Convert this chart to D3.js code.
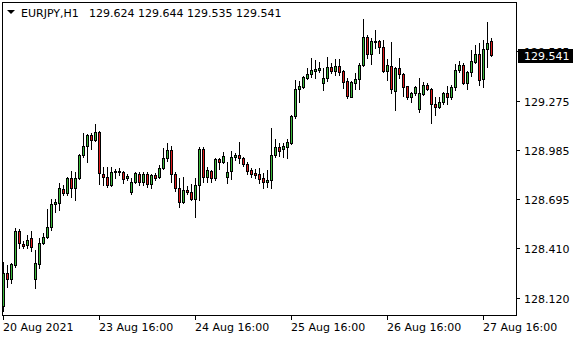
<!DOCTYPE html>
<html>
<head>
<meta charset="utf-8">
<script src="https://cdn.jsdelivr.net/npm/d3@7"></script>
<style>
  body { margin: 0; background: #fff; }
  svg { display: block; font-family: "DejaVu Sans", sans-serif; font-size: 11px; }
</style>
</head>
<body>
<svg width="580" height="340"></svg>
<script>
// EURJPY H1 candles
const symbol = "EURJPY,H1";
const lastQuote = ["129.624", "129.644", "129.535", "129.541"];

const opens = [
  128.070, 128.263, 128.229, 128.311, 128.510, 128.434, 128.428, 128.469, 128.229, 128.317,
  128.439, 128.475, 128.533, 128.668, 128.674, 128.756, 128.733, 128.821, 128.762, 128.821,
  128.955, 129.008, 129.072, 129.043, 129.090, 128.844, 128.827, 128.780, 128.856, 128.856,
  128.856, 128.821, 128.739, 128.797, 128.844, 128.797, 128.844, 128.786, 128.838, 128.827,
  128.880, 128.938, 128.985, 128.844, 128.762, 128.680, 128.750, 128.739, 128.698, 128.780,
  128.991, 128.827, 128.862, 128.821, 128.932, 128.914, 128.827, 128.862, 128.944, 128.955,
  128.938, 128.903, 128.868, 128.850, 128.844, 128.821, 128.797, 128.809, 128.955, 129.002,
  128.991, 129.002, 129.026, 129.184, 129.342, 129.354, 129.407, 129.430, 129.448, 129.454,
  129.378, 129.407, 129.471, 129.448, 129.477, 129.448, 129.389, 129.295, 129.378, 129.401,
  129.483, 129.647, 129.547, 129.618, 129.624, 129.589, 129.448, 129.477, 129.331, 129.465,
  129.430, 129.360, 129.295, 129.319, 129.225, 129.313, 129.366, 129.342, 129.254, 129.237,
  129.266, 129.319, 129.295, 129.354, 129.454, 129.483, 129.378, 129.442, 129.500, 129.547,
  129.401, 129.577, 129.624
];
const highs = [
  128.328, 128.311, 128.322, 128.528, 128.522, 128.451, 128.486, 128.510, 128.399, 128.469,
  128.498, 128.639, 128.698, 128.698, 128.791, 128.780, 128.827, 128.862, 128.856, 128.961,
  129.084, 129.078, 129.084, 129.137, 129.096, 128.885, 128.885, 128.885, 128.874, 128.880,
  128.862, 128.844, 128.821, 128.856, 128.856, 128.856, 128.856, 128.844, 128.850, 128.897,
  128.997, 129.026, 129.008, 128.856, 128.821, 128.827, 128.774, 128.786, 128.821, 129.002,
  129.002, 128.885, 128.868, 128.938, 128.938, 128.973, 128.914, 128.979, 128.967, 129.032,
  128.944, 128.914, 128.880, 128.874, 128.880, 128.850, 128.868, 129.114, 129.049, 129.026,
  129.026, 129.049, 129.190, 129.395, 129.389, 129.419, 129.465, 129.524, 129.512, 129.500,
  129.465, 129.530, 129.495, 129.518, 129.518, 129.454, 129.407, 129.389, 129.436, 129.495,
  129.753, 129.659, 129.641, 129.688, 129.630, 129.630, 129.518, 129.618, 129.471, 129.524,
  129.436, 129.360, 129.325, 129.360, 129.407, 129.383, 129.378, 129.348, 129.295, 129.295,
  129.325, 129.360, 129.366, 129.489, 129.506, 129.495, 129.448, 129.571, 129.600, 129.612,
  129.630, 129.735, 129.644
];
const lows = [
  128.041, 128.182, 128.205, 128.299, 128.410, 128.410, 128.410, 128.393, 128.176, 128.293,
  128.434, 128.469, 128.516, 128.621, 128.633, 128.721, 128.721, 128.710, 128.692, 128.815,
  128.944, 128.914, 128.990, 129.037, 128.786, 128.780, 128.768, 128.774, 128.821, 128.838,
  128.791, 128.809, 128.727, 128.791, 128.780, 128.780, 128.768, 128.762, 128.809, 128.821,
  128.874, 128.920, 128.797, 128.744, 128.651, 128.674, 128.727, 128.692, 128.592, 128.692,
  128.797, 128.797, 128.797, 128.809, 128.874, 128.909, 128.791, 128.815, 128.926, 128.909,
  128.891, 128.844, 128.827, 128.821, 128.791, 128.762, 128.768, 128.762, 128.944, 128.949,
  128.944, 128.938, 129.020, 129.172, 129.266, 129.348, 129.401, 129.413, 129.407, 129.442,
  129.336, 129.389, 129.436, 129.424, 129.424, 129.348, 129.289, 129.295, 129.342, 129.342,
  129.477, 129.524, 129.489, 129.583, 129.553, 129.442, 129.395, 129.319, 129.219, 129.407,
  129.301, 129.284, 129.266, 129.307, 129.207, 129.307, 129.336, 129.143, 129.190, 129.231,
  129.254, 129.254, 129.284, 129.336, 129.442, 129.372, 129.342, 129.419, 129.495, 129.366,
  129.354, 129.471, 129.535
];
const closes = [
  128.263, 128.229, 128.317, 128.510, 128.439, 128.422, 128.457, 128.416, 128.322, 128.439,
  128.475, 128.533, 128.668, 128.680, 128.762, 128.733, 128.821, 128.762, 128.821, 128.955,
  129.008, 129.072, 129.043, 129.090, 128.850, 128.827, 128.780, 128.856, 128.862, 128.862,
  128.815, 128.832, 128.797, 128.850, 128.797, 128.844, 128.786, 128.838, 128.821, 128.880,
  128.938, 128.985, 128.844, 128.762, 128.680, 128.750, 128.739, 128.698, 128.780, 128.991,
  128.827, 128.868, 128.821, 128.932, 128.914, 128.949, 128.856, 128.944, 128.955, 128.938,
  128.903, 128.862, 128.844, 128.838, 128.815, 128.797, 128.809, 128.955, 129.002, 128.979,
  129.008, 129.032, 129.184, 129.342, 129.360, 129.413, 129.430, 129.454, 129.460, 129.465,
  129.407, 129.471, 129.448, 129.477, 129.442, 129.383, 129.301, 129.383, 129.401, 129.483,
  129.647, 129.547, 129.624, 129.624, 129.589, 129.448, 129.483, 129.342, 129.465, 129.430,
  129.354, 129.295, 129.319, 129.354, 129.319, 129.366, 129.342, 129.254, 129.237, 129.266,
  129.319, 129.295, 129.354, 129.454, 129.483, 129.378, 129.442, 129.506, 129.547, 129.395,
  129.577, 129.612, 129.541
];

const priceTicks = [128.120, 128.410, 128.695, 128.985, 129.275, 129.565];
const timeTickIdx = [0, 24, 48, 72, 96, 120];
const timeTickLabels = ["20 Aug 2021", "23 Aug 16:00", "24 Aug 16:00", "25 Aug 16:00", "26 Aug 16:00", "27 Aug 16:00"];

const svg = d3.select("svg").attr("shape-rendering", "crispEdges");
const frame = { left: 2, top: 2, right: 516, bottom: 315 };

//scales: one bar every 4 px, price axis like the terminal
const xScale = d3.scaleLinear().domain([0, 1]).range([3, 7]);
const yScale = d3.scaleLinear().domain([128.120, 129.275]).range([297.5, 100.5]);

const candles = opens.map((o, i) => ({ o: o, h: highs[i], l: lows[i], c: closes[i], i: i }));

//frame
svg.append("rect")
  .attr("x", frame.left + 0.5)
  .attr("y", frame.top + 0.5)
  .attr("width", frame.right - frame.left)
  .attr("height", frame.bottom - frame.top)
  .attr("fill", "none")
  .attr("stroke", "#000");

const g = svg.append("g");

// wicks
g.selectAll(".wick")
  .data(candles)
  .enter()
  .append("rect")
  .attr("class", "wick")
  .attr("x", d => Math.round(xScale(d.i)))
  .attr("y", d => Math.round(yScale(d.h)))
  .attr("width", 1)
  .attr("height", d => Math.round(yScale(d.l)) - Math.round(yScale(d.h)) + 1)
  .attr("fill", "#000");

// bodies
g.selectAll(".body")
  .data(candles)
  .enter()
  .append("rect")
  .attr("class", "body")
  .attr("x", d => Math.round(xScale(d.i)) - 0.5)
  .attr("y", d => Math.round(yScale(Math.max(d.o, d.c))) + 0.5)
  .attr("width", 2)
  .attr("height", d => Math.max(0, Math.round(yScale(Math.min(d.o, d.c))) - Math.round(yScale(Math.max(d.o, d.c)))))
  .attr("fill", d => d.c >= d.o ? "#3cb93c" : "#e01b1b")
  .attr("stroke", "#000")
  .attr("stroke-width", 1);

//price axis
const yAx = svg.append("g");
yAx.selectAll("line")
  .data(priceTicks)
  .enter()
  .append("rect")
  .attr("x", frame.right + 1)
  .attr("y", d => Math.round(yScale(d)))
  .attr("width", 3)
  .attr("height", 1)
  .attr("fill", "#000");
yAx.selectAll("text")
  .data(priceTicks)
  .enter()
  .append("text")
  .attr("x", 524)
  .attr("y", d => Math.round(yScale(d)) + 4.5)
  .attr("fill", "#000")
  .text(d => d.toFixed(3));

// current price tag
const lastClose = closes[closes.length - 1];
const ly = Math.round(yScale(lastClose));
svg.append("rect")
  .attr("x", 518)
  .attr("y", ly - 6)
  .attr("width", 55)
  .attr("height", 14)
  .attr("fill", "#000");
svg.append("text")
  .attr("x", 524)
  .attr("y", ly + 5)
  .attr("fill", "#fff")
  .text(lastClose.toFixed(3));

//time axis
const xAx = svg.append("g");
xAx.selectAll("rect")
  .data(timeTickIdx)
  .enter()
  .append("rect")
  .attr("x", d => Math.round(xScale(d)))
  .attr("y", frame.bottom + 1)
  .attr("width", 1)
  .attr("height", 4)
  .attr("fill", "#000");
xAx.selectAll("text")
  .data(timeTickIdx)
  .enter()
  .append("text")
  .attr("x", d => Math.round(xScale(d)))
  .attr("y", 331)
  .attr("fill", "#000")
  .text((d, i) => timeTickLabels[i]);

// header
svg.append("path")
  .attr("d", "M7,10 L15,10 L11,14 Z")
  .attr("fill", "#000")
  .attr("shape-rendering", "auto");
svg.append("text")
  .attr("x", 21)
  .attr("y", 17)
  .attr("fill", "#000")
  .text(symbol);
svg.append("text")
  .attr("x", 89)
  .attr("y", 17)
  .attr("fill", "#000")
  .attr("xml:space", "preserve")
  .text(lastQuote.join(" "));
</script>
</body>
</html>
